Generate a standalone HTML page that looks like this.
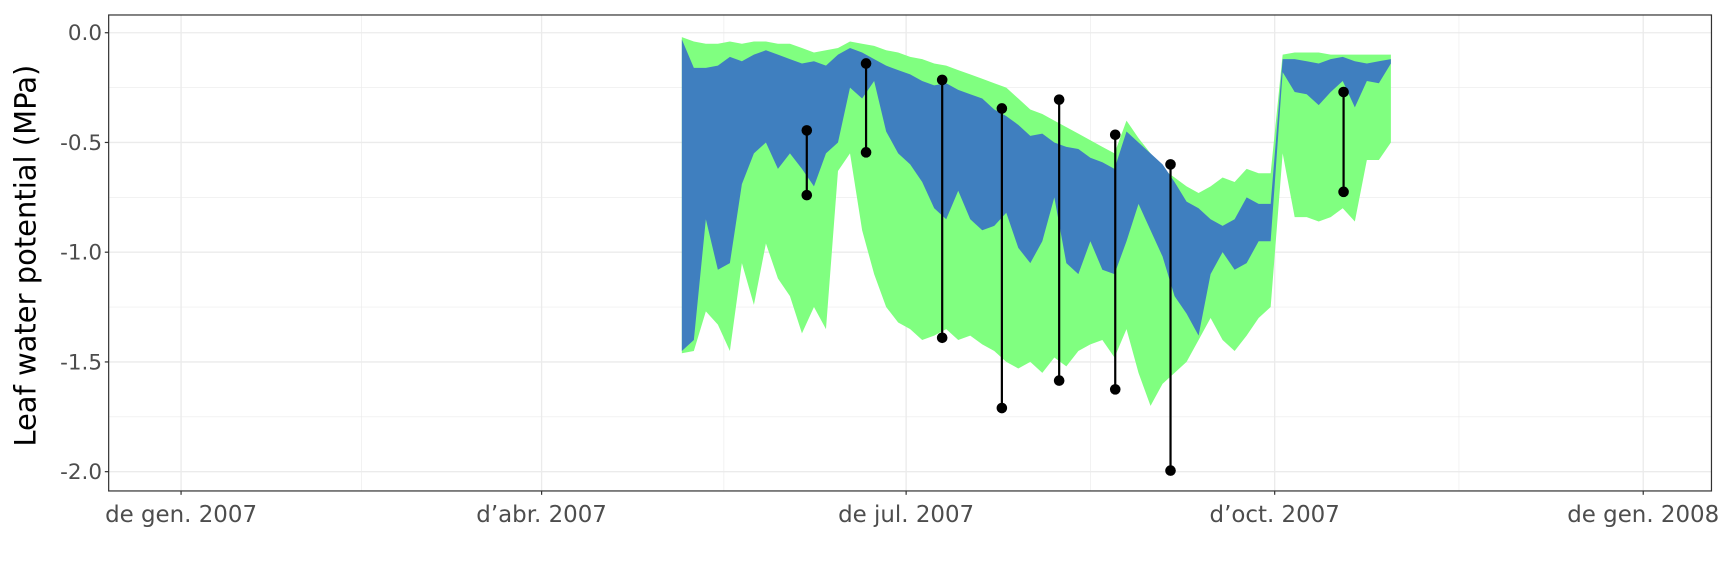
<!DOCTYPE html>
<html><head><meta charset="utf-8"><style>
html,body{margin:0;padding:0;background:#fff;}
svg{display:block;font-family:"DejaVu Sans","Liberation Sans",sans-serif;}
</style></head><body>
<svg width="1728" height="576" viewBox="0 0 1568 522.67" preserveAspectRatio="none" xmlns="http://www.w3.org/2000/svg">
<g id="grid"></g>
<g id="bands"></g>
<g id="pts"></g>
<rect x="98.6" y="13.6" width="1454.4" height="431.9" fill="none" stroke="#333" stroke-width="1.1"/>
<g id="axes"></g>
<text transform="translate(32,232) rotate(-90)" text-anchor="middle" font-size="26.3" fill="#000">Leaf water potential (MPa)</text>
</svg>
<script>
const days=[125,128,131,134,137,140,143,146,149,152,155,158,161,164,167,170,173,176,179,182,185,188,191,194,197,200,203,206,209,212,215,218,221,224,227,230,233,236,239,242,245,248,251,254,257,260,263,266,269,272,275,278,281,284,287,290,293,296,299,302];
const greenTop=[-0.02,-0.04,-0.05,-0.05,-0.04,-0.05,-0.04,-0.04,-0.05,-0.05,-0.07,-0.09,-0.08,-0.07,-0.04,-0.05,-0.06,-0.08,-0.09,-0.11,-0.12,-0.14,-0.15,-0.17,-0.19,-0.21,-0.23,-0.25,-0.30,-0.35,-0.37,-0.40,-0.43,-0.46,-0.49,-0.52,-0.55,-0.40,-0.48,-0.55,-0.62,-0.66,-0.70,-0.73,-0.70,-0.66,-0.68,-0.62,-0.64,-0.64,-0.10,-0.09,-0.09,-0.09,-0.10,-0.10,-0.10,-0.10,-0.10,-0.10];
const greenBottom=[-1.46,-1.45,-1.27,-1.33,-1.45,-1.05,-1.24,-0.96,-1.12,-1.20,-1.37,-1.25,-1.35,-0.63,-0.55,-0.90,-1.10,-1.25,-1.32,-1.35,-1.40,-1.38,-1.35,-1.40,-1.38,-1.42,-1.45,-1.50,-1.53,-1.50,-1.55,-1.48,-1.52,-1.45,-1.42,-1.40,-1.48,-1.35,-1.55,-1.70,-1.60,-1.55,-1.50,-1.40,-1.30,-1.40,-1.45,-1.38,-1.30,-1.25,-0.55,-0.84,-0.84,-0.86,-0.84,-0.80,-0.86,-0.58,-0.58,-0.50];
const blueTop=[-0.03,-0.16,-0.16,-0.15,-0.11,-0.13,-0.10,-0.08,-0.10,-0.12,-0.14,-0.13,-0.15,-0.10,-0.07,-0.09,-0.12,-0.15,-0.17,-0.19,-0.22,-0.24,-0.23,-0.26,-0.28,-0.30,-0.35,-0.38,-0.42,-0.47,-0.46,-0.50,-0.52,-0.53,-0.57,-0.59,-0.62,-0.45,-0.50,-0.55,-0.60,-0.68,-0.77,-0.80,-0.85,-0.88,-0.85,-0.75,-0.78,-0.78,-0.12,-0.12,-0.13,-0.14,-0.12,-0.11,-0.13,-0.14,-0.13,-0.12];
const blueBottom=[-1.45,-1.40,-0.85,-1.08,-1.05,-0.69,-0.55,-0.50,-0.62,-0.55,-0.62,-0.70,-0.55,-0.50,-0.25,-0.30,-0.22,-0.45,-0.55,-0.60,-0.68,-0.80,-0.85,-0.72,-0.85,-0.90,-0.88,-0.82,-0.98,-1.05,-0.95,-0.75,-1.05,-1.10,-0.95,-1.08,-1.10,-0.95,-0.78,-0.90,-1.02,-1.20,-1.28,-1.38,-1.10,-1.00,-1.08,-1.05,-0.95,-0.95,-0.18,-0.27,-0.28,-0.33,-0.27,-0.22,-0.34,-0.22,-0.23,-0.14];
const measDays=[156.2,171.0,190.0,204.9,219.2,233.2,247.0,290.2];
const measUpper=[-0.445,-0.14,-0.215,-0.345,-0.305,-0.465,-0.60,-0.27];
const measLower=[-0.74,-0.545,-1.39,-1.71,-1.585,-1.625,-1.995,-0.725];
const yTicks=[0,-0.5,-1,-1.5,-2];
const yTickLabels=["0.0","-0.5","-1.0","-1.5","-2.0"];
const xTicks=[0,90,181,273,365];
const xTickLabels=["de gen. 2007","d\u2019abr. 2007","de jul. 2007","d\u2019oct. 2007","de gen. 2008"];
const xMinor=[45,135.5,227,319];
const yMinor=[-0.25,-0.75,-1.25,-1.75];

const NS="http://www.w3.org/2000/svg";
const X=d=>164.3+d*3.635;
const Y=v=>29.7-v*199.15;
const L=98.6,R=1553,T=13.6,B=445.5;
function mk(tag,attrs,parent){const e=document.createElementNS(NS,tag);for(const k in attrs)e.setAttribute(k,attrs[k]);parent.appendChild(e);return e;}
const grid=document.getElementById('grid'),axes=document.getElementById('axes'),bands=document.getElementById('bands'),pts=document.getElementById('pts');
yMinor.forEach(v=>{const e=mk('line',{x1:L,x2:R,y1:Y(v),y2:Y(v),stroke:'#EBEBEB','stroke-width':0.6},grid);

});
xMinor.forEach(d=>{const e=mk('line',{x1:X(d),x2:X(d),y1:T,y2:B,stroke:'#EBEBEB','stroke-width':0.6},grid);

});
yTicks.forEach((v,i)=>{const e=mk('line',{x1:L,x2:R,y1:Y(v),y2:Y(v),stroke:'#EBEBEB','stroke-width':1.2},grid);


const t=mk('line',{x1:L-3.5,x2:L,y1:Y(v),y2:Y(v),stroke:'#333','stroke-width':1.1},axes);


const l=mk('text',{x:L-6,y:Y(v)+6.8,'text-anchor':'end','font-size':19.5,fill:'#4D4D4D'},axes);l.textContent=yTickLabels[i];

});
xTicks.forEach((d,i)=>{const e=mk('line',{x1:X(d),x2:X(d),y1:T,y2:B,stroke:'#EBEBEB','stroke-width':1.2},grid);


const t=mk('line',{x1:X(d),x2:X(d),y1:B,y2:B+3.5,stroke:'#333','stroke-width':1.1},axes);


const l=mk('text',{x:X(d),y:B+28,'text-anchor':'middle','font-size':20.8,fill:'#4D4D4D'},axes);l.textContent=xTickLabels[i];

});
function band(top,bot,fill,name){let p='';days.forEach((d,i)=>{p+=(i?'L':'M')+X(d).toFixed(1)+','+Y(top[i]).toFixed(1);});
for(let i=days.length-1;i>=0;i--)p+='L'+X(days[i]).toFixed(1)+','+Y(bot[i]).toFixed(1);
const e=mk('path',{d:p+'Z',fill:fill},bands);

}
band(greenTop,greenBottom,'#80FF80','green-range-band');
band(blueTop,blueBottom,'#3F7FBF','blue-range-band');
measDays.forEach((d,i)=>{const ln=mk('line',{x1:X(d),x2:X(d),y1:Y(measUpper[i]),y2:Y(measLower[i]),stroke:'#000','stroke-width':2},pts);


[measUpper[i],measLower[i]].forEach(v=>{const c=mk('circle',{cx:X(d),cy:Y(v),r:4.8,fill:'#000'},pts);

});});
</script>
</body></html>
